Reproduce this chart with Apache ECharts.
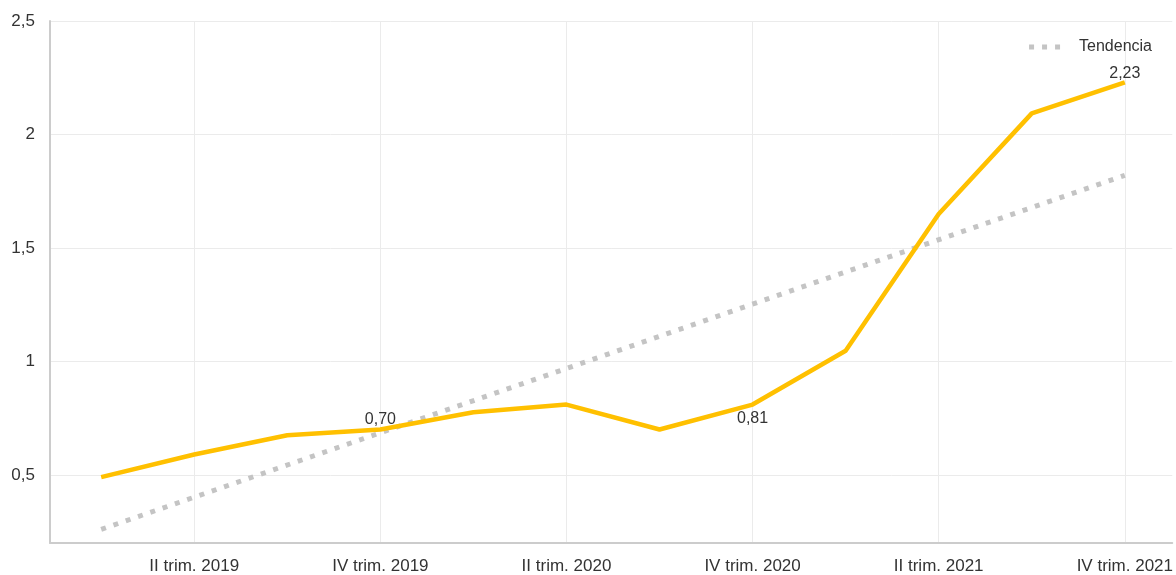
<!DOCTYPE html>
<html>
<head>
<meta charset="utf-8">
<script src="https://cdn.jsdelivr.net/npm/echarts@6/dist/echarts.min.js"></script>
<style>
html,body{margin:0;padding:0;background:#fff;overflow:hidden;}
#chart{width:100vw;height:100vh;}
</style>
</head>
<body>
<div id="chart"></div>
<script>
const categories = [
  "I trim. 2019", "II trim. 2019", "III trim. 2019", "IV trim. 2019",
  "I trim. 2020", "II trim. 2020", "III trim. 2020", "IV trim. 2020",
  "I trim. 2021", "II trim. 2021", "III trim. 2021", "IV trim. 2021"
];
const seriesValues = [0.49, 0.59, 0.675, 0.70, 0.776, 0.81, 0.70, 0.81, 1.047, 1.65, 2.093, 2.23];
const labelledIndices = [3, 7, 11];
const trendIndices = [0, 11];
const trendValues = [0.26, 1.82];
const yTicks = [0.5, 1, 1.5, 2, 2.5];
const xGridIndices = [1, 3, 5, 7, 9, 11];
const trendName = "Tendencia";

const fmt = v => String(Math.round(v * 100) / 100).replace('.', ',');
const fmt2 = v => v.toFixed(2).replace('.', ',');

const mainData = seriesValues.map((v, i) => {
  const item = { value: [i, v] };
  if (labelledIndices.includes(i)) {
    item.label = i === 7
      ? { show: true, position: 'bottom', distance: 6 }
      : { show: true, position: 'top', distance: i === 11 ? 1 : 2 };
  }
  return item;
});
const trendData = trendIndices.map((x, i) => [x, trendValues[i]]);

const gridLines = yTicks.map(v => ({ yAxis: v })).concat(xGridIndices.map(i => ({ xAxis: i })));

const chart = echarts.init(document.getElementById('chart'), null, { renderer: 'canvas' });
chart.setOption({
  animation: false,
  backgroundColor: '#fff',
  textStyle: { fontFamily: 'Liberation Sans, Arial, sans-serif' },
  grid: { left: 50, right: 0, top: 21, bottom: 29, containLabel: false },
  legend: {
    data: [{ name: trendName, icon: 'path://M0,0H5V5H0Z M13,0H18V5H13Z M26,0H31V5H26Z' }],
    right: 19, top: 34,
    itemWidth: 31, itemHeight: 5,
    itemStyle: { color: '#c4c4c4' },
    textStyle: { color: '#333', fontSize: 16, padding: [0, 0, 0, 14] }
  },
  xAxis: {
    type: 'value',
    min: -0.55, max: 11.51, interval: 0.01,
    axisLine: { show: true, onZero: false, lineStyle: { color: '#cccccc', width: 2 } },
    axisTick: { show: false },
    splitLine: { show: false },
    axisLabel: {
      color: '#333', fontSize: 17, margin: 15,
      showMinLabel: true, showMaxLabel: true,
      formatter: v => {
        const r = Math.round(v);
        if (Math.abs(v - r) < 1e-6 && xGridIndices.includes(r)) return categories[r];
        return '';
      }
    }
  },
  yAxis: {
    type: 'value',
    min: 0.2, max: 2.5, interval: 0.1,
    axisLine: { show: true, onZero: false, lineStyle: { color: '#cccccc', width: 2 } },
    axisTick: { show: false },
    splitLine: { show: false },
    axisLabel: {
      color: '#333', fontSize: 17, margin: 15,
      formatter: v => {
        const hit = yTicks.find(t => Math.abs(t - v) < 1e-6);
        return hit === undefined ? '' : fmt(hit);
      }
    }
  },
  series: [
    {
      name: 'grid', type: 'line', z: 0, silent: true,
      data: [[0, 1], [11, 1]],
      showSymbol: false,
      lineStyle: { opacity: 0 },
      markLine: {
        silent: true, symbol: ['none', 'none'], z: 0,
        label: { show: false },
        lineStyle: { color: '#ebebeb', width: 1, type: 'solid' },
        emphasis: { disabled: true },
        data: gridLines
      }
    },
    {
      name: trendName, type: 'line', z: 2,
      data: trendData,
      showSymbol: false, symbol: 'none',
      itemStyle: { color: '#c4c4c4' },
      lineStyle: { color: '#c4c4c4', width: 5, type: [5, 8] }
    },
    {
      name: 'Serie', type: 'line', z: 3,
      data: mainData,
      showSymbol: true, symbol: 'circle', symbolSize: 0,
      itemStyle: { color: '#FFC000' },
      lineStyle: { color: '#FFC000', width: 4.5 },
      label: {
        show: false, color: '#333', fontSize: 16,
        formatter: p => fmt2(p.value[1])
      }
    }
  ]
});
window.addEventListener('resize', () => chart.resize());
</script>
</body>
</html>
